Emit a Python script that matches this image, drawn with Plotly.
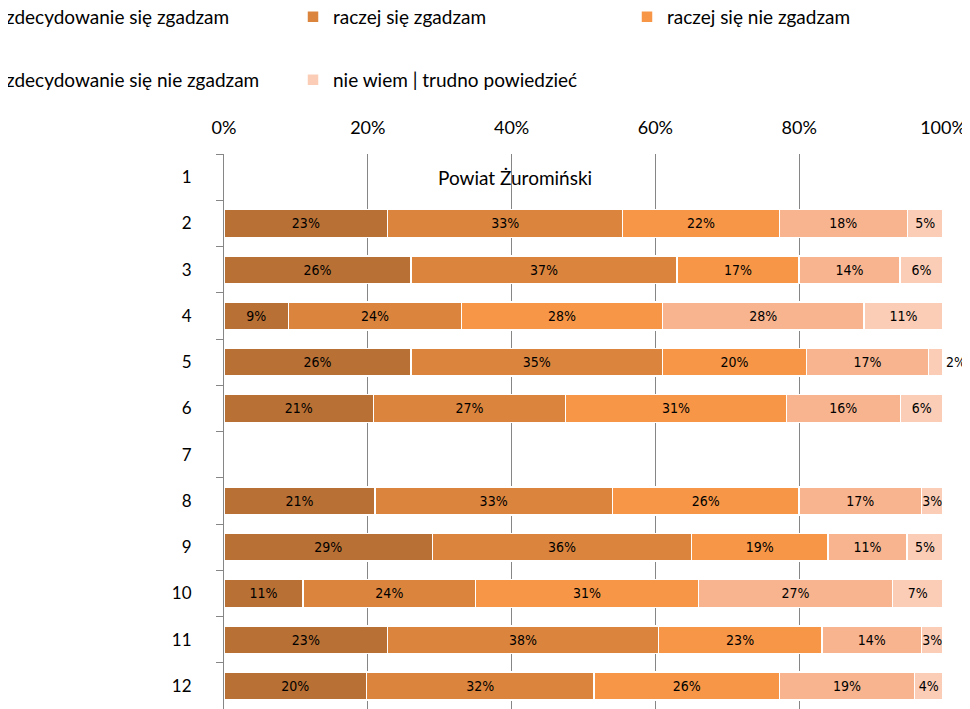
import plotly.graph_objects as go

categories = ["1", "2", "3", "4", "5", "6", "7", "8", "9", "10", "11", "12"]
series_names = [
    "zdecydowanie się zgadzam",
    "raczej się zgadzam",
    "raczej się nie zgadzam",
    "zdecydowanie się nie zgadzam",
    "nie wiem | trudno powiedzieć",
]
s1 = [None, 23, 26, 9, 26, 21, None, 21, 29, 11, 23, 20]
s2 = [None, 33, 37, 24, 35, 27, None, 33, 36, 24, 38, 32]
s3 = [None, 22, 17, 28, 20, 31, None, 26, 19, 31, 23, 26]
s4 = [None, 18, 14, 28, 17, 16, None, 17, 11, 27, 14, 19]
s5 = [None, 5, 6, 11, 2, 6, None, 3, 5, 7, 3, 4]
x_ticks = [0, 20, 40, 60, 80, 100]
title_text = "Powiat Żuromiński"

colors = ["#B97034", "#DB843D", "#F79646", "#F8B48F", "#FBCDB6"]
series = [s1, s2, s3, s4, s5]

label_font = dict(family="Liberation Sans Narrow, DejaVu Sans Condensed, Arial Narrow, sans-serif",
                  size=14, color="#000000")
main_font = "Lato, Carlito, Calibri, sans-serif"

# figure is drawn inside a page with an 8px body margin
W, H = 962, 701
L, R, T, B = 216, 27, 146, 0
pw = W - L - R
ph = H - T - B


def xp(fx):
    return (fx - L) / pw


def yp(fy):
    return 1 - (fy - T) / ph


legend_ids = ["legend", "legend2", "legend3", "legend4", "legend5"]
legend_pos = [(-42, -10), (285, -10), (619, -10), (-42, 53), (285, 53)]

fig = go.Figure()
for i, (name, vals) in enumerate(zip(series_names, series)):
    if i == 4:
        pos = ["outside" if (v is not None and v <= 2) else "inside" for v in vals]
    else:
        pos = "inside"
    fig.add_trace(go.Bar(
        y=categories, x=vals, name=name, orientation="h",
        marker=dict(color=colors[i], line=dict(color="white", width=1.5)),
        text=vals, texttemplate="%{text}%", textposition=pos,
        insidetextanchor="middle", textangle=0,
        insidetextfont=label_font, outsidetextfont=label_font,
        cliponaxis=False, width=0.6,
        legend=legend_ids[i],
    ))

fig.add_annotation(x=40.5, y=0, xref="x", yref="y", text=title_text,
                   showarrow=False, font=dict(family=main_font, size=19, color="#000000"))

legends = {}
for lid, (lx, ly) in zip(legend_ids, legend_pos):
    legends[lid] = dict(x=xp(lx), xanchor="left", y=yp(ly), yanchor="top",
                        font=dict(size=19, color="#000000"),
                        bgcolor="rgba(0,0,0,0)", borderwidth=0)

fig.update_layout(
    width=W, height=H,
    margin=dict(l=L, r=R, t=T, b=B, autoexpand=False),
    barmode="stack", barnorm="percent",
    plot_bgcolor="white", paper_bgcolor="white",
    font=dict(family=main_font, size=17, color="#000000"),
    uniformtext=dict(minsize=14, mode="show"),
    xaxis=dict(side="top", range=[0, 100], tickvals=x_ticks,
               ticktext=[f"{v}%" for v in x_ticks],
               showgrid=True, gridcolor="#868686", gridwidth=1,
               zeroline=False, showline=False, ticks="",
               tickfont=dict(size=18, color="#000000"), ticklabelstandoff=15),
    yaxis=dict(type="category", categoryorder="array", categoryarray=categories,
               autorange="reversed", showline=True, linecolor="#868686", linewidth=1,
               ticks="outside", tickson="boundaries", ticklen=7, tickcolor="#868686",
               showgrid=False, tickfont=dict(size=17, color="#000000"),
               ticklabelstandoff=28),
    showlegend=True,
    bargap=0.4,
    **legends,
)

fig.write_html("out.html")
